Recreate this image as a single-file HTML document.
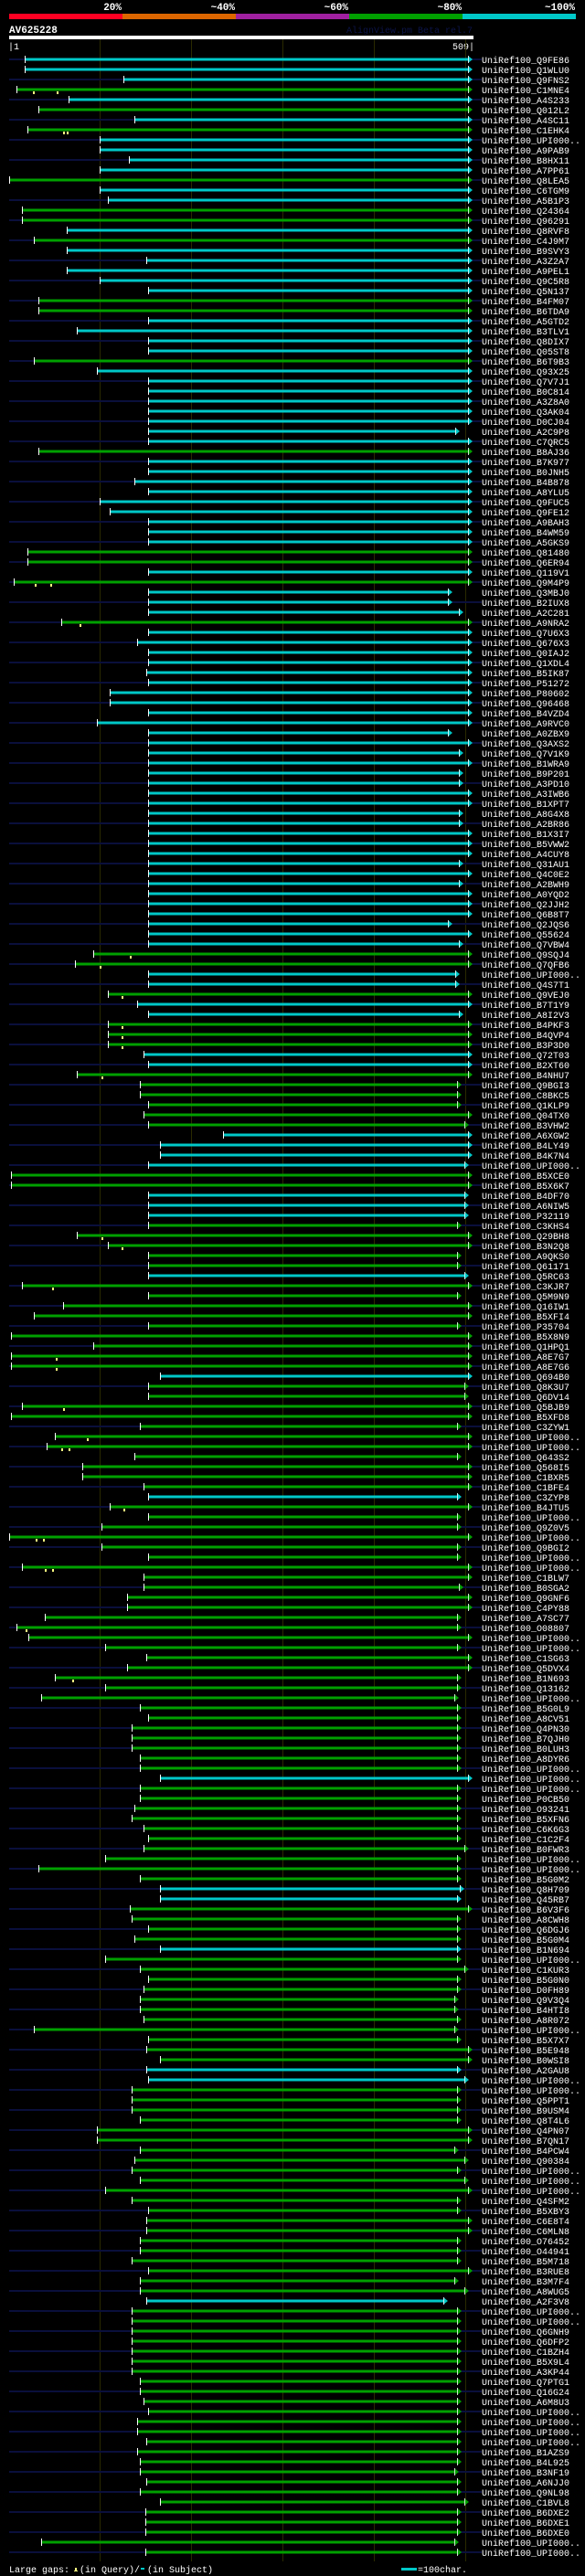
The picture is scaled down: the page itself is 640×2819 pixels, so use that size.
<!DOCTYPE html>
<html><head><meta charset="utf-8"><title>AV625228 alignment</title>
<style>
html,body{margin:0;padding:0;background:#000;}
svg{display:block;}
text{font-family:"Liberation Mono",monospace;}
</style></head>
<body>
<svg id="chart" width="640" height="2819" viewBox="0 0 640 2819" xmlns="http://www.w3.org/2000/svg">
<rect x="0" y="0" width="640" height="2819" fill="#000"/>
<g>
<rect x="10" y="15" width="124" height="6" fill="#ff0022"/>
<rect x="134" y="15" width="124" height="6" fill="#dd6600"/>
<rect x="258" y="15" width="124" height="6" fill="#a020a0"/>
<rect x="382" y="15" width="124" height="6" fill="#00a000"/>
<rect x="506" y="15" width="124" height="6" fill="#00c8c8"/>
<text x="133" y="11" text-anchor="end" fill="#fff" font-size="11" font-weight="bold">20%</text>
<text x="257" y="11" text-anchor="end" fill="#fff" font-size="11" font-weight="bold">~40%</text>
<text x="381" y="11" text-anchor="end" fill="#fff" font-size="11" font-weight="bold">~60%</text>
<text x="505" y="11" text-anchor="end" fill="#fff" font-size="11" font-weight="bold">~80%</text>
<text x="629" y="11" text-anchor="end" fill="#fff" font-size="11" font-weight="bold">~100%</text>
</g>
<text x="10" y="36" fill="#fff" font-size="11" font-weight="bold">AV625228</text>
<text x="517" y="36" text-anchor="end" fill="#0c1448" font-size="10">AlignView.pm Beta rel.7</text>
<rect x="10" y="39" width="508" height="4" fill="#fff"/>
<text x="9" y="54" fill="#fff" font-size="10">|1</text>
<text x="519" y="54" text-anchor="end" fill="#fff" font-size="10">509|</text>
<g id="grid"></g>
<g id="rows"></g>
<g>
<text x="10" y="2815" fill="#fff" font-size="10">Large gaps:</text>
<rect x="82" y="2810" width="2" height="4" fill="#ffff80"/><rect x="81" y="2813" width="4" height="1" fill="#ffff80"/>
<text x="87" y="2815" fill="#fff" font-size="10">(in Query)/</text>
<rect x="154" y="2810" width="4" height="2" fill="#00c8c8"/>
<text x="161" y="2815" fill="#fff" font-size="10">(in Subject)</text>
<rect x="439" y="2810" width="17" height="3" fill="#00c8c8"/>
<text x="457" y="2815" fill="#fff" font-size="10">=100char.</text>
</g>
</svg>
<script>
const names = ["Q9FE86","Q1WLU0","Q9FNS2","C1MNE4","A4S233","Q012L2","A4SC11","C1EHK4","UPI000..","A9PAB9","B8HX11","A7PP61","Q8LEA5","C6TGM9","A5B1P3","Q24364","Q96291","Q8RVF8","C4J9M7","B9SVY3","A3Z2A7","A9PEL1","Q9C5R8","Q5N137",
"B4FM07","B6TDA9","A5GTD2","B3TLV1","Q8DIX7","Q05ST8","B6T9B3","Q93X25","Q7V7J1","B0C814","A3Z8A0","Q3AK04","D0CJ04","A2C9P8","C7QRC5","B8AJ36","B7K977","B0JNH5","B4B878","A8YLU5","Q9FUC5","Q9FE12","A9BAH3","B4WM59","A5GKS9",
"Q81480","Q6ER94","Q119V1","Q9M4P9","Q3MBJ0","B2IUX8","A2C281","A9NRA2","Q7U6X3","Q676X3","Q0IAJ2","Q1XDL4","B5IK87","P51272","P80602","Q96468","B4VZD4","A9RVC0","A0ZBX9","Q3AXS2","Q7V1K9","B1WRA9","B9P201","A3PD10",
"A3IWB6","B1XPT7","A8G4X8","A2BR86","B1X3I7","B5VWW2","A4CUY8","Q31AU1","Q4C0E2","A2BWH9","A0YQD2","Q2JJH2","Q6B8T7","Q2JQS6","Q55624","Q7VBW4","Q9SQJ4","Q7QFB6","UPI000..","Q4S7T1","Q9VEJ0","B7T1Y9","A8I2V3",
"B4PKF3","B4QVP4","B3P3D0","Q72T03","B2XT60","B4NHU7","Q9BGI3","C8BKC5","Q1KLP9","Q04TX0","B3VHW2","A6XGW2","B4LY49","B4K7N4","UPI000..","B5XCE0","B5X6K7","B4DF70","A6NIW5","P32119","C3KHS4","Q29BH8","B3N2Q8","A9QKS0","Q61171",
"Q5RC63","C3KJR7","Q5M9N9","Q16IW1","B5XFI4","P35704","B5X8N9","Q1HPQ1","A8E7G7","A8E7G6","Q694B0","Q8K3U7","Q6DV14","Q5BJB9","B5XFD8","C3ZYW1","UPI000..","UPI000..","Q643S2","Q568I5","C1BXR5","C1BFE4","C3ZYP8","B4JTU5",
"UPI000..","Q9Z0V5","UPI000..","Q9BGI2","UPI000..","UPI000..","C1BLW7","B0SGA2","Q9GNF6","C4PY88","A7SC77","O08807","UPI000..","UPI000..","C1SG63","Q5DVX4","B1N693","Q13162","UPI000..","B5G0L9","A8CV51","Q4PN30","B7QJH0","B0LUH3",
"A8DYR6","UPI000..","UPI000..","UPI000..","P0CB50","O93241","B5XFN6","C6K6G3","C1C2F4","B0FWR3","UPI000..","UPI000..","B5G0M2","Q8H709","Q45RB7","B6V3F6","A8CWH8","Q6DGJ6","B5G0M4","B1N694","UPI000..","C1KUR3","B5G0N0","D0FH89",
"Q9V3Q4","B4HTI8","A8R072","UPI000..","B5X7X7","B5E948","B0WSI8","A2GAU8","UPI000..","UPI000..","Q5PPT1","B9USM4","Q8T4L6","Q4PN07","B7QN17","B4PCW4","Q90384","UPI000..","UPI000..","UPI000..","Q4SFM2","B5XBY3","C6E8T4","C6MLN8","O76452","O44941",
"B5M718","B3RUE8","B3M7F4","A8WUG5","A2F3V8","UPI000..","UPI000..","Q6GNH9","Q6DFP2","C1BZH4","B5X9L4","A3KP44","Q7PTG1","Q16G24","A6M8U3","UPI000..","UPI000..","UPI000..","UPI000..","B1AZS9","B4L925","B3NF19","A6NJJ0","Q9NL98","C1BVL8",
"B6DXE2","B6DXE1","B6DXE0","UPI000..","UPI000.."];
// alignment start residues (subject hit start on query)
const starts = [18,18,126,9,66,33,138,21,100,100,132,100,1,100,109,15,15,64,28,64,151,64,100,153,
33,33,153,75,153,153,28,97,153,153,153,153,153,153,153,33,153,153,138,153,100,111,153,153,153,
21,21,153,6,153,153,153,58,153,141,153,153,151,153,111,111,153,97,153,153,153,153,153,153,
153,153,153,153,153,153,153,153,153,153,153,153,153,153,153,153,93,73,153,153,109,141,153,
109,109,109,148,153,75,144,144,153,148,153,235,166,166,153,3,3,153,153,153,153,75,109,153,153,
153,15,153,60,28,153,3,93,3,3,166,153,153,15,3,144,51,42,138,81,81,148,153,111,
153,102,1,102,153,15,148,148,130,130,40,9,22,106,151,130,51,106,36,144,153,135,135,135,
144,144,166,144,144,138,135,148,153,148,106,33,144,166,166,133,135,153,138,166,106,144,153,148,
144,144,148,28,153,151,166,151,153,135,135,135,144,97,97,144,138,135,144,106,135,153,151,151,144,144,
135,153,144,144,151,135,135,135,135,135,135,135,144,144,148,153,141,141,151,141,144,144,151,144,166,
150,150,150,36,150];
// alignment end residues
const ends = [503,503,503,503,503,503,503,503,503,503,503,503,503,503,503,503,503,503,503,503,503,503,503,503,
503,503,503,503,503,503,503,503,503,503,503,503,503,489,503,503,503,503,503,503,503,503,503,503,503,
503,503,503,503,481,481,493,503,503,503,503,503,503,503,503,503,503,503,481,503,493,503,493,493,
503,503,493,493,503,503,503,493,503,493,503,503,503,481,503,493,503,503,489,489,503,503,493,
503,503,503,503,503,503,491,491,491,503,499,503,503,503,499,503,503,499,499,499,491,503,503,491,491,
499,503,491,503,503,491,503,503,503,503,503,499,499,503,503,491,503,503,491,503,503,503,491,503,
491,491,503,491,491,503,503,493,503,503,491,491,503,491,503,503,491,491,488,491,491,491,491,491,
491,491,503,491,491,491,491,491,491,499,491,491,491,494,491,503,491,491,491,491,491,499,491,491,
488,488,491,488,491,503,503,491,499,491,491,491,491,503,503,488,499,491,499,503,491,491,503,503,491,491,
491,503,488,499,476,491,491,491,491,491,491,491,491,491,491,491,491,491,491,491,491,488,491,491,499,
491,491,491,488,491];
// 1 = >80% identity (cyan), 0 = 60-80% (green)
const identityClass = [1,1,1,0,1,0,1,0,1,1,1,1,0,1,1,0,0,1,0,1,1,1,1,1,
0,0,1,1,1,1,0,1,1,1,1,1,1,1,1,0,1,1,1,1,1,1,1,1,1,
0,0,1,0,1,1,1,0,1,1,1,1,1,1,1,1,1,1,1,1,1,1,1,1,
1,1,1,1,1,1,1,1,1,1,1,1,1,1,1,1,0,0,1,1,0,1,1,
0,0,0,1,1,0,0,0,0,0,0,1,1,1,1,0,0,1,1,1,0,0,0,0,0,
1,0,0,0,0,0,0,0,0,0,1,0,0,0,0,0,0,0,0,0,0,0,1,0,
0,0,0,0,0,0,0,0,0,0,0,0,0,0,0,0,0,0,0,0,0,0,0,0,
0,0,1,0,0,0,0,0,0,0,0,0,0,1,1,0,0,0,0,1,0,0,0,0,
0,0,0,0,0,0,0,1,1,0,0,0,0,0,0,0,0,0,0,0,0,0,0,0,0,0,
0,0,0,0,1,0,0,0,0,0,0,0,0,0,0,0,0,0,0,0,0,0,0,0,0,
0,0,0,0,0];
// large gaps in query: [row, residue]
const gapRows = [3,3,7,7,52,52,56,89,90,93,96,97,98,101,117,118,122,129,130,134,137,138,138,144,147,147,150,150,156,161];
const gapResidues = [28,54,61,65,30,47,79,134,101,125,125,125,125,103,103,125,49,53,53,61,87,59,67,127,31,39,41,49,20,71];

const NS = "http://www.w3.org/2000/svg";
const ROW0 = 65, ROWH = 11;
function xScale(r){ return 9 + r; }
function yScale(i){ return ROW0 + i*ROWH; }
const COLORS = ["#00a000","#00c8c8"];
function mk(tag, attrs, parent){
  const e = document.createElementNS(NS, tag);
  for (const k in attrs) e.setAttribute(k, attrs[k]);
  parent.appendChild(e);
  return e;
}
const grid = document.getElementById('grid');
const gridTicks = [100,200,300,400,500];
gridTicks.forEach(t => {
  const l = mk('rect', {x: xScale(t), y: 43, width: 1, height: 2760, fill: '#2a2a00'}, grid);
  
  
});
const rowsG = document.getElementById('rows');
names.forEach((n, i) => {
  const y = yScale(i);
  const g = mk('g', {}, rowsG);
  
  
  if (i % 2 === 0) {
    mk('rect', {x: 10, y: y-1, width: 517, height: 2, fill: '#0a0f3c'}, g);
  }
  const c = COLORS[identityClass[i]];
  const x0 = xScale(starts[i]), x1 = xScale(ends[i]);
  const bar = mk('rect', {x: x0, y: y-1.5, width: x1-x0, height: 3, fill: c}, g);
  
  
  mk('polygon', {points: (x1)+','+(y-4)+' '+(x1+5)+','+y+' '+(x1)+','+(y+4), fill: c}, g);
  mk('rect', {x: x0, y: y-4, width: 1, height: 8, fill: '#fff'}, g);
  mk('rect', {x: x1, y: y-4, width: 1, height: 8, fill: '#fff', opacity: 0.8}, g);
  const t = mk('text', {x: 527, y: y+4, fill: '#fff', 'font-size': 10}, g);
  t.textContent = 'UniRef100_' + n;
  
  
});
gapRows.forEach((r, k) => {
  const x = xScale(gapResidues[k]), y = yScale(r);
  const m = mk('rect', {x: x-1, y: y+2, width: 2, height: 3, fill: '#ffff80'}, rowsG);
  
  
});
</script>
</body></html>
